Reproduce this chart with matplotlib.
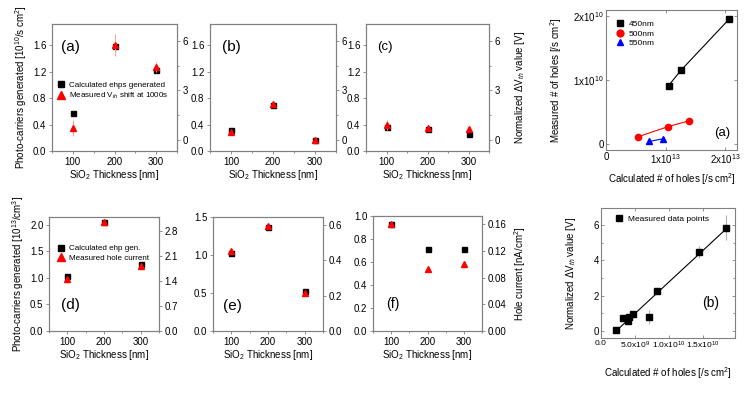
import matplotlib
matplotlib.use("Agg")
import matplotlib.pyplot as plt
import numpy as np
from matplotlib.ticker import MultipleLocator, FixedLocator, FixedFormatter, FormatStrFormatter
from matplotlib.lines import Line2D

plt.rcParams['font.family'] = ['Liberation Sans', 'DejaVu Sans']
plt.rcParams['mathtext.fontset'] = 'custom'
plt.rcParams['mathtext.rm'] = 'Liberation Sans'
plt.rcParams['mathtext.it'] = 'Liberation Sans:italic'
plt.rcParams['mathtext.bf'] = 'Liberation Sans:bold'

# --- data ---
thick = [100, 200, 300]

a_ehp = [0.57, 1.58, 1.22]
a_vth = [0.73, 5.75, 4.40]
a_err = [0.50, 0.65, 0.30]
b_ehp = [0.32, 0.70, 0.16]
b_vth = [0.50, 2.18, 0.00]
b_err = [0.15, 0.15, 0.10]
c_ehp = [0.37, 0.33, 0.26]
c_vth = [0.90, 0.75, 0.67]
c_err = [0.30, 0.10, 0.15]

d_ehp = [1.04, 2.06, 1.26]
d_cur = [1.45, 3.06, 1.83]
e_ehp = [1.02, 1.37, 0.52]
e_cur = [0.455, 0.595, 0.214]
f_ehp = [0.93, 0.71, 0.71]
f_cur = [0.160, 0.092, 0.100]

calc_450 = [1.05e13, 1.26e13, 2.07e13]
meas_450 = [0.91e10, 1.15e10, 1.95e10]
calc_500 = [0.53e13, 1.04e13, 1.39e13]
meas_500 = [0.11e10, 0.27e10, 0.36e10]
calc_550 = [0.73e13, 0.95e13]
meas_550 = [0.04e10, 0.08e10]

calc_holes = [2.2e9, 3.3e9, 3.9e9, 4.1e9, 4.7e9, 7.0e9, 8.2e9, 14.4e9, 18.4e9]
norm_dvth = [0.04, 0.70, 0.57, 0.80, 0.93, 0.80, 2.26, 4.49, 5.85]
norm_err = [0, 0, 0, 0, 0, 0.40, 0.15, 0.35, 0.70]

GRAY = '#808080'
PINK = '#f4a6a6'
TICK_FS = 7
LAB_FS = 7


def rect(l, t, r, b):
    return [l / 750, 1 - b / 397, (r - l) / 750, (b - t) / 397]


def style(ax, mirror=False):
    for s in ax.spines.values():
        s.set_color(GRAY)
        s.set_linewidth(0.8)
    ax.tick_params(which='both', direction='out', colors=GRAY, labelcolor='black',
                   labelsize=TICK_FS, width=0.6, pad=1.5)
    ax.tick_params(which='major', length=2.5)
    ax.tick_params(which='minor', length=1.5)
    if mirror:
        ax.tick_params(which='both', right=True, top=True, direction='in')


fig = plt.figure(figsize=(7.5, 3.97), dpi=100)


def thick_panel(box, ehp, meas, err, ylim, yticks, ylim2, yticks2, fmt2, letter, lsize, lpos):
    ax = fig.add_axes(rect(*box))
    ax.plot(thick, ehp, 's', color='black', markersize=3.6, zorder=3)
    ax.set_xlim(50, 350)
    ax.set_ylim(*ylim)
    ax.xaxis.set_major_locator(FixedLocator(thick))
    ax.xaxis.set_minor_locator(MultipleLocator(50))
    ax.yaxis.set_major_locator(FixedLocator(yticks))
    ax.yaxis.set_major_formatter(FormatStrFormatter('%.1f'))
    style(ax)
    ax.set_xlabel('SiO$_2$ Thickness [nm]', fontsize=LAB_FS, labelpad=1)
    ax2 = ax.twinx()
    if err is not None:
        ax2.errorbar(thick, meas, yerr=err, fmt='none', ecolor=PINK, elinewidth=0.8, capsize=0)
    ax2.plot(thick, meas, '^', color='red', markersize=4.6, zorder=3)
    ax2.set_ylim(*ylim2)
    ax2.yaxis.set_major_locator(FixedLocator(yticks2))
    ax2.yaxis.set_major_formatter(FormatStrFormatter(fmt2))
    style(ax2)
    ax.text(lpos[0], lpos[1], letter, transform=ax.transAxes, fontsize=lsize,
            ha='left', va='center')
    return ax, ax2


top_left = [0.0, 0.4, 0.8, 1.2, 1.6]
aa, aa2 = thick_panel((52, 24, 177, 151), a_ehp, a_vth, a_err, (0, 1.92), top_left,
                      (-0.67, 7.03), [0, 3, 6], '%d', '(a)', 11, (0.07, 0.82))
ba, ba2 = thick_panel((210, 24, 336, 151), b_ehp, b_vth, b_err, (0, 1.92), top_left,
                      (-0.67, 7.03), [0, 3, 6], '%d', '(b)', 11, (0.095, 0.82))
ca, ca2 = thick_panel((366, 24, 489, 151), c_ehp, c_vth, c_err, (0, 1.92), top_left,
                      (-0.67, 7.03), [0, 3, 6], '%d', '(c)', 9.5, (0.09, 0.82))
for ax2 in (aa2, ba2, ca2):
    ax2.yaxis.set_minor_locator(MultipleLocator(1.5))
aa.set_ylabel('Photo-carriers generated [10$^{10}$/s cm$^2$]', fontsize=LAB_FS)
aa.yaxis.set_label_coords(-0.184, 0.5)
ca2.set_ylabel('Normalized ΔV$_{th}$ value [V]', fontsize=LAB_FS, labelpad=9)

leg_a = [Line2D([], [], ls='none', marker='s', color='black', markersize=4),
         Line2D([], [], ls='none', marker='^', color='red', markersize=5.5)]
aa2.legend(leg_a, ['Calculated ehps generated', 'Measured V$_{th}$ shift at 1000s'],
           loc='center left', bbox_to_anchor=(0.02, 0.47), frameon=False, fontsize=5.8,
           handlelength=0.9, handletextpad=0.5, borderaxespad=0, labelspacing=0.25)

da, da2 = thick_panel((49, 217, 159, 331), d_ehp, d_cur, None, (0, 2.15),
                      [0.0, 0.5, 1.0, 1.5, 2.0], (0, 3.2), [0.0, 0.7, 1.4, 2.1, 2.8], '%.1f',
                      '(d)', 11, (0.11, 0.23))
ea, ea2 = thick_panel((213, 217, 323, 331), e_ehp, e_cur, None, (0, 1.5),
                      [0.0, 0.5, 1.0, 1.5], (0, 0.645), [0.0, 0.2, 0.4, 0.6], '%.1f',
                      '(e)', 11, (0.09, 0.22))
fa, fa2 = thick_panel((373, 216, 482, 331), f_ehp, f_cur, None, (0, 1.0),
                      [0.0, 0.2, 0.4, 0.6, 0.8, 1.0], (0, 0.172),
                      [0.0, 0.04, 0.08, 0.12, 0.16], '%.2f', '(f)', 10, (0.12, 0.235))
da.set_ylabel('Photo-carriers generated [10$^{13}$/cm$^3$]', fontsize=LAB_FS)
da.yaxis.set_label_coords(-0.209, 0.5)
fa2.set_ylabel('Hole current [nA/cm$^2$]', fontsize=LAB_FS, labelpad=4)
leg_d = [Line2D([], [], ls='none', marker='s', color='black', markersize=4),
         Line2D([], [], ls='none', marker='^', color='red', markersize=5.5)]
da2.legend(leg_d, ['Calculated ehp gen.', 'Measured hole current'],
           loc='center left', bbox_to_anchor=(0.05, 0.68), frameon=False, fontsize=5.8,
           handlelength=0.9, handletextpad=0.5, borderaxespad=0, labelspacing=0.25)

# --- top right: measured vs calculated holes ---
tr = fig.add_axes(rect(606, 10, 737, 150))
tr.plot(calc_450, meas_450, '-s', color='black', lw=0.8, markersize=4, label='450nm')
tr.plot(calc_500, meas_500, '-o', color='red', lw=0.8, markersize=4.5, label='500nm',
        markeredgecolor='red')
tr.plot(calc_550, meas_550, '-^', color='blue', lw=0.8, markersize=4.5, label='550nm')
tr.set_xlim(0, 2.2e13)
tr.set_ylim(-0.094e10, 2.09e10)
tr.xaxis.set_major_locator(FixedLocator([0, 1e13, 2e13]))
tr.xaxis.set_major_formatter(FixedFormatter(['0', '1x10$^{13}$', '2x10$^{13}$']))
tr.yaxis.set_major_locator(FixedLocator([0, 1e10, 2e10]))
tr.yaxis.set_major_formatter(FixedFormatter(['0', '1x10$^{10}$', '2x10$^{10}$']))
style(tr, mirror=True)
tr.set_xlabel('Calculated # of holes [/s cm$^2$]', fontsize=LAB_FS, labelpad=4)
tr.set_ylabel('Measured # of holes [/s cm$^2$]', fontsize=LAB_FS, labelpad=7)
tr.legend(loc='upper left', bbox_to_anchor=(0.05, 0.95), frameon=False, fontsize=6,
          handlelength=0.9, handletextpad=0.6, borderaxespad=0, labelspacing=0.2,
          numpoints=1, markerscale=1.1)
for h in tr.get_legend().get_lines():
    h.set_linestyle('none')
tr.text(0.95, 0.12, '(a)', transform=tr.transAxes, fontsize=9.5, ha='right', va='center')

# --- bottom right: normalized dVth vs calculated holes ---
br = fig.add_axes(rect(601, 208, 735, 338))
fit = np.polyfit(calc_holes, norm_dvth, 1)
xs = np.array([min(calc_holes), max(calc_holes)])
br.plot(xs, np.polyval(fit, xs), '-', color='black', lw=0.8)
br.errorbar(calc_holes, norm_dvth, yerr=norm_err, fmt='none', ecolor='#b0b0b0',
            elinewidth=0.8, capsize=0)
br.plot(calc_holes, norm_dvth, 's', color='black', markersize=4, label='Measured data points')
br.set_xlim(0, 1.97e10)
br.set_ylim(-0.41, 6.97)
br.xaxis.set_major_locator(FixedLocator([0, 5e9, 1e10, 1.5e10]))
br.xaxis.set_major_formatter(FixedFormatter(['0.0', '5.0x10$^9$', '1.0x10$^{10}$',
                                             '1.5x10$^{10}$']))
br.yaxis.set_major_locator(FixedLocator([0, 2, 4, 6]))
br.yaxis.set_minor_locator(MultipleLocator(1))
style(br, mirror=True)
br.tick_params(axis='x', labelsize=6)
br.set_xlabel('Calculated # of holes [/s cm$^2$]', fontsize=LAB_FS, labelpad=10)
br.set_ylabel('Normalized ΔV$_{th}$ value [V]', fontsize=LAB_FS, labelpad=11)
br.legend(loc='upper left', bbox_to_anchor=(0.08, 0.97), frameon=False, fontsize=6,
          handlelength=0.9, handletextpad=0.6, borderaxespad=0)
br.text(0.88, 0.27, '(b)', transform=br.transAxes, fontsize=10, ha='right', va='center')

fig.savefig('out.png', dpi=100)
